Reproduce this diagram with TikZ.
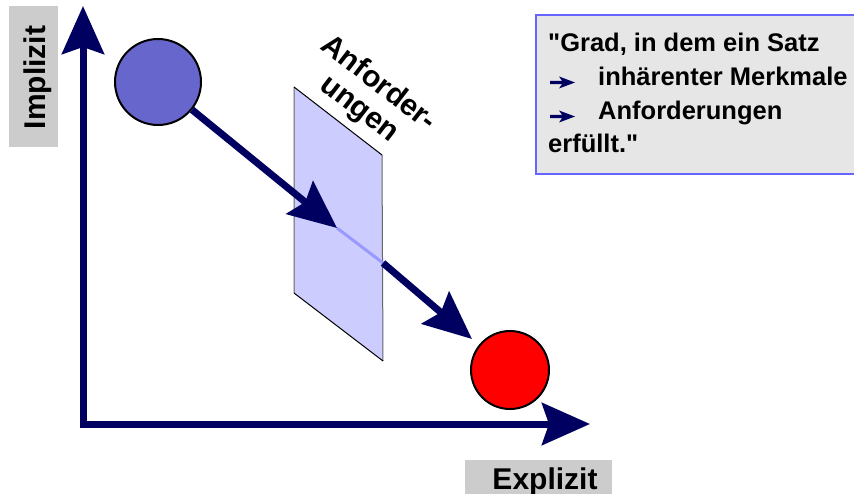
\documentclass[tikz,border=0pt]{standalone}
\usepackage{fontspec}
\setmainfont{Liberation Sans}[Ligatures=TeXOff]
\usetikzlibrary{arrows.meta}
\definecolor{navy}{RGB}{0,0,96}
\definecolor{ballblue}{RGB}{102,102,204}
\definecolor{planefill}{RGB}{204,204,255}
\definecolor{lightline}{RGB}{153,153,255}
\definecolor{labelgray}{RGB}{204,204,204}
\definecolor{boxgray}{RGB}{230,230,230}
\definecolor{boxblue}{RGB}{102,102,255}
\begin{document}
\begin{tikzpicture}[x=1pt,y=-1pt,
  bigtip/.tip={Stealth[length=48pt,width=42pt,inset=7pt]},
  bigarrow/.style={line width=7pt, draw=navy, -{bigtip}},
  axisline/.style={line width=7pt, draw=navy, {bigtip}-{bigtip}},
  ball/.style={circle, draw=black, line width=2pt, inner sep=0pt},
  axislabel/.style={font=\fontsize{30}{32}\selectfont\bfseries, inner sep=0pt},
  boxtext/.style={font=\fontsize{25.5}{30}\selectfont\bfseries, inner sep=0pt, anchor=base west},
  bullet/.style={fill=navy}
]
\useasboundingbox (0,0) rectangle (854,494);
\clip (0,0) rectangle (854,494);

% label boxes
\fill[labelgray] (9,6) rectangle (58,147);
\node[axislabel, rotate=90, anchor=base] (impl) at (45,77.5) {Implizit};
\fill[labelgray] (465,460) rectangle (612,500);
\node[axislabel, anchor=base] (expl) at (545,489) {Explizit};

% axes
\coordinate (ytop) at (83,6);
\coordinate (xend) at (590,424);
\draw[axisline] (ytop) |- (xend);

% plane
\coordinate (p1) at (294,87);
\coordinate (p2) at (382,155);
\coordinate (p3) at (383,361);
\coordinate (p4) at (294,293);
\fill[planefill] (p1) -- (p2) -- (p3) -- (p4) -- cycle;
\draw[black!60, line width=1pt] (p1) -- (p4) (p2) -- (p3);
\draw[black, line width=1pt] (p1) -- (p2) (p3) -- (p4);
\node[font=\fontsize{30}{32}\selectfont\bfseries, rotate=-37.7, align=center,
      anchor=north west, inner sep=0pt] (anf) at (333,31) {Anforder-\\ungen};

% balls
\node[ball, fill=ballblue, minimum size=86pt] (blue) at (158,82) {};
\node[ball, fill=red, minimum size=78pt] (redball) at (510,370) {};

% path arrows
\coordinate (t1) at (337,228);
\coordinate (e1) at (383,263);
\coordinate (t2) at (472,339);
\draw[lightline, line width=3pt] (t1) -- (e1);
\draw[bigarrow] (blue) -- (t1);
\draw[bigarrow] (e1) -- (t2);

% definition box
\draw[boxblue, fill=boxgray, line width=2pt] (536,15) rectangle (870,174);
\node[boxtext] (l1) at (548,52) {"Grad, in dem ein Satz};
\node[boxtext] (l2) at (598,86) {inhärenter Merkmale};
\node[boxtext] (l3) at (598,120) {Anforderungen};
\node[boxtext] (l4) at (548,153) {erfüllt."};
\fill[bullet] (550,80.8) -- (562,80.8) -- (559,76.5) -- (575,82.5) -- (559,88.5) -- (562,84.2) -- (550,84.2) -- cycle;
\fill[bullet] (550,114.8) -- (562,114.8) -- (559,110.5) -- (575,116.5) -- (559,122.5) -- (562,118.2) -- (550,118.2) -- cycle;
\end{tikzpicture}
\end{document}
